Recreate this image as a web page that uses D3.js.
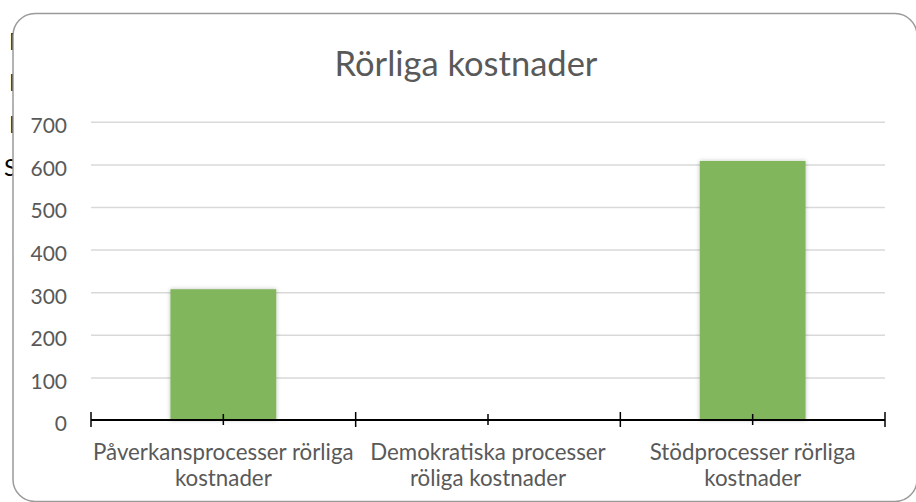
<!DOCTYPE html>
<html>
<head>
<meta charset="utf-8">
<script src="https://cdn.jsdelivr.net/npm/d3@7"></script>
<style>
  body { margin: 0; background: #fff; }
  svg { display: block; font-family: Lato, "Open Sans", sans-serif; }
</style>
</head>
<body>
<svg id="chart"></svg>
<script>
// data
var title = 'Rörliga kostnader'
var categories = ['Påverkansprocesser rörliga kostnader', 'Demokratiska processer röliga kostnader', 'Stödprocesser rörliga kostnader']
var categoryLines = [['Påverkansprocesser rörliga', 'kostnader'], ['Demokratiska processer', 'röliga kostnader'], ['Stödprocesser rörliga', 'kostnader']]
var values = [307, null, 608]
var yTicks = [0, 100, 200, 300, 400, 500, 600, 700]

var width = 916
var height = 502
var svg = d3.select('#chart').attr('width', width).attr('height', height)

// bits of text hidden behind the chart (cut off at the left edge)
var behind = [['I', 50], ['I', 91], ['I', 133], ['S', 176]]
svg.selectAll('text.behind').data(behind).enter().append('text')
  .attr('class', 'behind')
  .attr('x', function (d) { return d[0] === 'S' ? 4 : 9 })
  .attr('y', function (d) { return d[1] })
  .attr('font-size', '24px')
  .attr('fill', '#000')
  .text(function (d) { return d[0] })

// chart area
svg.append('rect')
  .attr('x', 13).attr('y', 13.5)
  .attr('width', 904).attr('height', 488)
  .attr('rx', 22).attr('ry', 22)
  .attr('fill', '#fff')
  .attr('stroke', '#9a9a9a')
  .attr('stroke-width', 1.5)

var defs = svg.append('defs')
var f = defs.append('filter').attr('id', 'shadow').attr('x', '-20%').attr('y', '-20%').attr('width', '140%').attr('height', '140%')
f.append('feDropShadow').attr('dx', 0).attr('dy', 0).attr('stdDeviation', 2).attr('flood-color', '#000').attr('flood-opacity', 0.25)

var plotLeft = 91, plotRight = 885, plotTop = 121.8, plotBottom = 420

var x = d3.scaleBand().domain(categories).range([plotLeft, plotRight]).padding(0)
var xBar = d3.scaleBand().domain(categories).range([plotLeft, plotRight]).paddingInner(0.6).paddingOuter(0.3)
var y = d3.scaleLinear().domain([0, 700]).range([plotBottom, plotTop])

// title
svg.append('text')
  .attr('x', 466).attr('y', 76)
  .attr('text-anchor', 'middle')
  .attr('font-size', '34.5px')
  .attr('fill', '#595959')
  .text(title)

// gridlines
var grid = svg.append('g').attr('transform', 'translate(' + plotLeft + ',0)')
  .call(d3.axisLeft(y).tickValues(yTicks.slice(1)).tickSize(-(plotRight - plotLeft)).tickFormat(''))
grid.select('.domain').remove()
grid.selectAll('line').attr('stroke', '#d9d9d9').attr('stroke-width', 1.5)

// y labels
var yAxis = svg.append('g').attr('transform', 'translate(67,0)')
  .call(d3.axisLeft(y).tickValues(yTicks).tickSize(0).tickPadding(0))
yAxis.select('.domain').remove()
yAxis.selectAll('text').attr('font-size', '21px').attr('fill', '#595959').attr('font-family', 'Lato, sans-serif').attr('dy', '0.52em')

// bars
svg.selectAll('rect.bar').data(categories.filter(function (c, i) { return values[i] != null })).enter()
  .append('rect')
  .attr('class', 'bar')
  .attr('x', function (d) { return xBar(d) })
  .attr('width', xBar.bandwidth())
  .attr('y', function (d) { return y(values[categories.indexOf(d)]) })
  .attr('height', function (d) { return plotBottom - y(values[categories.indexOf(d)]) })
  .attr('fill', '#82b65b')
  .attr('filter', 'url(#shadow)')

// x axis
var xAxis = svg.append('g').attr('transform', 'translate(0,' + plotBottom + ')')
  .call(d3.axisBottom(x).tickSize(5).tickFormat(''))
xAxis.select('.domain').attr('d', 'M' + plotLeft + ',0H' + plotRight).attr('stroke', '#000').attr('stroke-width', 2)
xAxis.selectAll('.tick line').attr('y1', -6).attr('y2', 5).attr('stroke', '#000').attr('stroke-width', 1.5)
var bounds = categories.map(function (c) { return x(c) }).concat([plotRight])
xAxis.selectAll('line.bound').data(bounds).enter().append('line')
  .attr('class', 'bound')
  .attr('x1', function (d) { return d }).attr('x2', function (d) { return d })
  .attr('y1', -8).attr('y2', 7)
  .attr('stroke', '#000').attr('stroke-width', 1.5)

// category labels
var lab = svg.selectAll('text.cat').data(categories).enter().append('text')
  .attr('class', 'cat')
  .attr('text-anchor', 'middle')
  .attr('font-size', '22.3px')
  .attr('fill', '#595959')
lab.selectAll('tspan').data(function (d, i) { return categoryLines[i].map(function (t) { return [d, t] }) })
  .enter().append('tspan')
  .attr('x', function (d) { return x(d[0]) + x.bandwidth() / 2 })
  .attr('y', function (d, j) { return 460 + j * 26 })
  .text(function (d) { return d[1] })
</script>
</body>
</html>
